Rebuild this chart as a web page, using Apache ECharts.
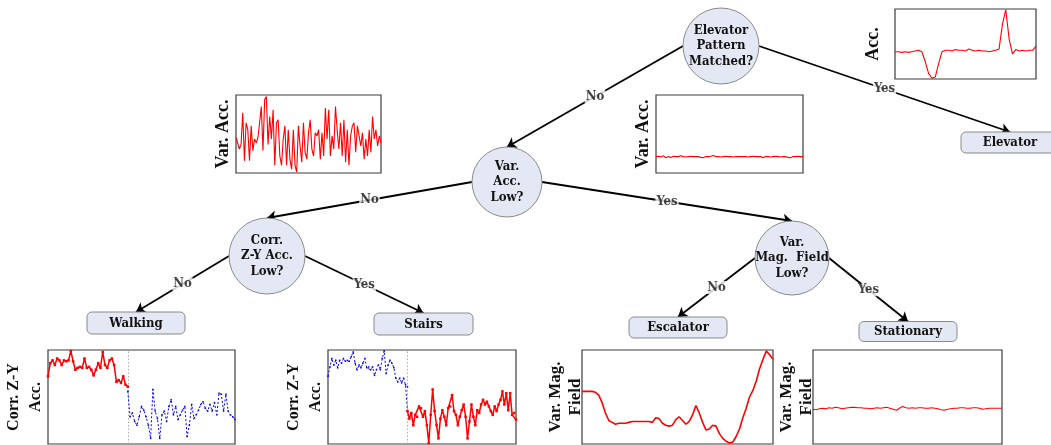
<!DOCTYPE html>
<html><head><meta charset="utf-8">
<script src="https://cdn.jsdelivr.net/npm/echarts@6/dist/echarts.min.js"></script>
<style>html,body{margin:0;padding:0;background:#fff}#c{width:1051px;height:445px}</style>
</head><body><div id="c"></div>
<script>
// ---------------- data ----------------
const decisionNodes = ['Elevator\nPattern\nMatched?', 'Var.\nAcc.\nLow?', 'Corr.\nZ-Y Acc.\nLow?', 'Var.\nMag.  Field\nLow?'];
const leafNodes = ['Elevator', 'Walking', 'Stairs', 'Escalator', 'Stationary'];
const edgeLabels = ['No', 'Yes', 'No', 'Yes', 'No', 'Yes', 'No', 'Yes'];
const plotYLabels = ['Acc.', 'Var. Acc.', 'Var. Acc.', 'Corr. Z-Y\nAcc.', 'Corr. Z-Y\nAcc.', 'Var. Mag.\nField', 'Var. Mag.\nField'];

const elevatorAcc = [39,39,38,39,38,39,40,41,39,25,8,1,3,22,39,41,41,40,42,41,41,40,43,41,40,41,40,40,39,40,41,43,78,99,57,36,42,40,41,40,41,41,47];
const varAccHigh = [45,45,30,36,77,15,64,55,15,60,28,43,38,45,64,85,28,94,98,36,72,43,81,9,64,68,21,9,43,60,9,55,17,4,55,9,0,60,34,13,64,26,17,51,68,30,21,51,47,55,17,51,21,83,43,81,21,47,30,85,55,30,64,21,68,13,55,9,47,60,64,26,60,47,34,51,17,43,21,55,26,72,43,55,34,47,38];
const varAccLow = [21,21.5,20.5,22,19.5,21,20,21.5,21,21,22,21,20.5,21,21.5,21,21,21,20,19.5,21,21,21.5,22.5,21,21,20.5,21,21.5,21,21,20.5,21,21,21,21,21,20.5,21,21.5,21,21,21,19.5,21,21,20.5,21,21.5,21,20.5,21,21,20,19.5,21,21,21.5,21,21];
const walkingRed = [72,86,89,84,91,89,84,89,88,89,99,88,79,81,82,81,91,81,82,79,73,79,86,81,98,84,81,89,91,84,66,68,65,72,63,61];
const walkingBlue = [56,29,33,24,20,29,40,36,29,20,6,58,35,27,6,31,35,24,40,47,31,40,26,31,36,40,8,20,42,27,31,36,42,45,38,35,42,35,44,31,54,53,35,53,35,31,29,26];
const stairsBlue = [72,82,91,84,89,81,89,86,91,88,89,88,93,98,86,79,84,81,86,91,81,82,79,82,73,79,84,79,91,99,75,84,89,86,81,70,66,70,65,70,63,61];
const stairsRed = [35,27,33,20,31,29,40,38,29,35,20,1,31,58,35,20,6,27,36,29,20,38,40,52,35,31,20,29,36,42,29,6,24,42,29,20,36,33,42,47,42,45,40,35,31,40,35,42,47,56,42,54,36,54,31,33,26];
const magEscalator = [56,56,56,56,55,52,44,33,25,23,21,22,22,22,23,24,24,24,24,24,24,23,28,27,22,20,19,20,26,29,25,21,24,31,41,33,23,15,16,20,19,11,6,3,1,2,8,16,28,38,50,57,67,80,90,99,95,90];
const magStationary = [37,36.5,37.5,38,37.5,38.5,38,39,38.5,37.5,38,38.5,39,39,38.5,38.5,38,38,37.5,38,38.5,38,38.5,39,38,37,36,38,40,38.5,38,38.5,38,38.5,38.5,38,38,38.5,38,37.5,36.5,36,37,37.5,38,38,38.5,38.5,38,38,38.5,38.5,38,37,37.5,38,38,38,38,38];

// ---------------- layout (pixels) ----------------
const W = 1051, H = 445;
const decPos = [[721, 46, 38], [507, 182, 35], [267, 256, 38], [792, 258, 37]];
const leafPos = [[1010, 142.5, 98, 21], [136, 323, 98, 22], [423.5, 324, 99, 22], [678, 327.5, 98, 21], [908, 331.5, 98, 20]];
// [fromDecision, side(-1 left, 1 right), target kind, target index]
const edgeDef = [[0,-1,'dec',1],[0,1,'leaf',0],[1,-1,'dec',2],[1,1,'dec',3],[2,-1,'leaf',1],[2,1,'leaf',2],[3,-1,'leaf',3],[3,1,'leaf',4]];
const plotBox = [[895,9,141,70],[236,95,145,78],[656,95,147,78],[48,350,187,94],[328,350,188,94],[582,350,191,94],[813,350,189,94]];
const plotNameGap = [12, 3, 3, 1, 1, -4, -4];
const plotNameSize = [18, 18, 18, 16, 16, 17, 17];
const plotNameLH = [20, 20, 20, 22, 22, 20, 20];

const nodeFont = "'DejaVu Serif Condensed', 'DejaVu Serif', serif";
const axisFont = "'Liberation Serif', 'Times New Roman', serif";
const NODE_FILL = '#e4e8f4', NODE_BORDER = '#8a8a8a';

// ---------------- build ----------------
const grids = [{ left: 0, top: 0, width: W, height: H, show: false }];
const xAxes = [{ gridIndex: 0, type: 'value', min: 0, max: W, show: false }];
const yAxes = [{ gridIndex: 0, type: 'value', min: 0, max: H, inverse: true, show: false }];
const series = [];

// edges
const edgeLines = [], edgeMid = [];
edgeDef.forEach((e, i) => {
  const s = decPos[e[0]];
  const start = [s[0] + e[1] * s[2], s[1]];
  let end;
  if (e[2] === 'dec') { const t = decPos[e[3]]; end = [t[0], t[1] - t[2]]; }
  else { const t = leafPos[e[3]]; end = [t[0], t[1] - t[3] / 2]; }
  edgeLines.push({ coords: [start, end] });
  edgeMid.push({ name: edgeLabels[i], value: [(start[0] + end[0]) / 2, (start[1] + end[1]) / 2] });
});
series.push({
  type: 'lines', coordinateSystem: 'cartesian2d', xAxisIndex: 0, yAxisIndex: 0,
  symbol: ['none', 'arrow'], symbolSize: 9, silent: true, z: 2,
  lineStyle: { color: '#000', width: 1.8, opacity: 1, curveness: 0 },
  data: edgeLines
});
series.push({
  type: 'scatter', xAxisIndex: 0, yAxisIndex: 0, symbolSize: 1, silent: true, z: 3,
  itemStyle: { color: 'rgba(0,0,0,0)' },
  label: { show: true, position: 'inside', formatter: '{b}', fontFamily: nodeFont, fontWeight: 'bold', fontSize: 13,
           color: '#111', backgroundColor: '#fff', padding: [0, 1] },
  data: edgeMid
});
// decision nodes
series.push({
  type: 'scatter', xAxisIndex: 0, yAxisIndex: 0, symbol: 'circle', silent: true, z: 4,
  itemStyle: { color: NODE_FILL, borderColor: NODE_BORDER, borderWidth: 1, opacity: 1 },
  label: { show: true, position: 'inside', formatter: '{b}', fontFamily: nodeFont, fontWeight: 'bold', fontSize: 13,
           lineHeight: 15.5, color: '#111' },
  data: decisionNodes.map((n, i) => ({ name: n, value: [decPos[i][0], decPos[i][1]], symbolSize: decPos[i][2] * 2 }))
});
// leaf nodes (rounded boxes)
series.push({
  type: 'custom', xAxisIndex: 0, yAxisIndex: 0, silent: true, z: 4,
  data: leafNodes.map((n, i) => [leafPos[i][0], leafPos[i][1], i]),
  renderItem: function (params, api) {
    const i = api.value(2);
    const p = api.coord([api.value(0), api.value(1)]);
    const w = leafPos[i][2], h = leafPos[i][3];
    return { type: 'group', children: [
      { type: 'rect', shape: { x: p[0] - w / 2, y: p[1] - h / 2, width: w, height: h, r: 5 },
        style: { fill: NODE_FILL, stroke: NODE_BORDER, lineWidth: 1 } },
      { type: 'text', x: p[0], y: p[1] + 0.5,
        style: { text: leafNodes[i], fontFamily: nodeFont, fontWeight: 'bold', fontSize: 13, fill: '#111', align: 'center', verticalAlign: 'middle' } }
    ] };
  }
});

// mini plots
const idx = a => a.map((v, i) => [i, v]);
const plotSeries = [
  [{ d: idx(elevatorAcc), c: 'red' }],
  [{ d: idx(varAccHigh), c: 'red' }],
  [{ d: idx(varAccLow), c: 'red' }],
  [{ d: idx(walkingRed), c: 'red', mark: true },
   { d: walkingBlue.map((v, i) => [walkingRed.length - 1 + i, v]), c: 'blue', split: walkingRed.length - 1 }],
  [{ d: stairsBlue.map((v, i) => [i, v]).concat([[stairsBlue.length - 1, stairsRed[0]]]), c: 'blue', split: stairsBlue.length - 1 },
   { d: stairsRed.map((v, i) => [stairsBlue.length - 1 + i, v]), c: 'red', mark: true }],
  [{ d: idx(magEscalator), c: 'red', w: 1.6 }],
  [{ d: idx(magStationary), c: 'red' }]
];
const yRange = [[0, 100], [-1, 100], [0, 100], [0, 100], [0, 100], [0, 100], [0, 100]];

plotBox.forEach((b, k) => {
  const gi = k + 1;
  grids.push({ left: b[0], top: b[1], width: b[2], height: b[3], show: true, borderColor: '#3c3c3c', borderWidth: 1.2, backgroundColor: '#fff' });
  let xmax = 0;
  plotSeries[k].forEach(s => s.d.forEach(p => { if (p[0] > xmax) xmax = p[0]; }));
  xAxes.push({ gridIndex: gi, type: 'value', min: 0, max: xmax, show: false });
  yAxes.push({ gridIndex: gi, type: 'value', min: yRange[k][0], max: yRange[k][1],
    axisLine: { show: false }, axisTick: { show: false }, axisLabel: { show: false }, splitLine: { show: false },
    name: plotYLabels[k], nameLocation: 'middle', nameRotate: 90, nameGap: plotNameGap[k],
    nameTextStyle: { fontFamily: axisFont, fontWeight: 'bold', fontSize: plotNameSize[k], color: '#111', lineHeight: plotNameLH[k], align: 'center' } });
  plotSeries[k].forEach(s => {
    const isBlue = s.c === 'blue';
    const ser = {
      type: 'line', xAxisIndex: gi, yAxisIndex: gi, data: s.d, silent: true, z: 5,
      showSymbol: !!(s.mark || isBlue), symbol: 'rect', symbolSize: isBlue ? 1.5 : 2.5,
      itemStyle: { color: isBlue ? '#0000ff' : '#ff0000' },
      lineStyle: { color: isBlue ? '#0000ff' : '#ff0000', width: isBlue ? 1 : (s.w || (s.mark ? 1.5 : 1.1)), type: isBlue ? [2, 2] : 'solid' }
    };
    if (s.split !== undefined) {
      ser.markLine = { silent: true, symbol: 'none', label: { show: false },
        lineStyle: { color: '#aaaaaa', type: [1.5, 2], width: 1 }, data: [{ xAxis: s.split }] };
    }
    series.push(ser);
  });
});

const chart = echarts.init(document.getElementById('c'), null, { renderer: 'canvas' });
chart.setOption({ animation: false, backgroundColor: '#fff', grid: grids, xAxis: xAxes, yAxis: yAxes, series: series });
</script></body></html>
